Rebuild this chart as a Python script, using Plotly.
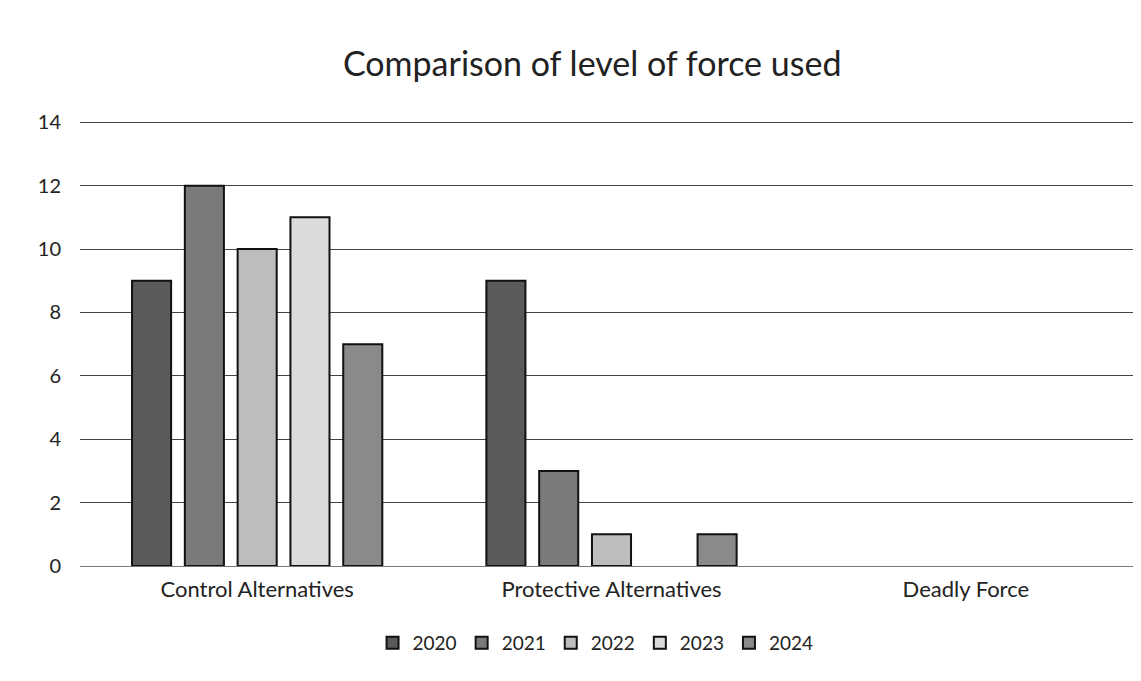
import plotly.graph_objects as go

categories = ["Control Alternatives", "Protective Alternatives", "Deadly Force"]
years = ["2020", "2021", "2022", "2023", "2024"]
values_2020 = [9, 9, 0]
values_2021 = [12, 3, 0]
values_2022 = [10, 1, 0]
values_2023 = [11, 0, 0]
values_2024 = [7, 1, 0]
y_ticks = [0, 2, 4, 6, 8, 10, 12, 14]

series = [values_2020, values_2021, values_2022, values_2023, values_2024]
colors = ["#5a5a5a", "#7a7a7a", "#bdbdbd", "#dcdcdc", "#8a8a8a"]
FONT = "Lato, Open Sans, sans-serif"

fig = go.Figure()
for yr, vals, col in zip(years, series, colors):
    fig.add_trace(go.Bar(
        x=categories, y=vals, name=yr,
        marker=dict(color=col,
                    line=dict(color="#111111", width=[2 if v > 0 else 0 for v in vals])),
    ))

fig.update_layout(
    width=1141, height=681, autosize=False,
    paper_bgcolor="white", plot_bgcolor="white",
    margin=dict(l=72, r=6, t=113, b=123),
    barmode="group", bargap=0.255, bargroupgap=0.26,
    title=dict(text="Comparison of level of force used", x=0.512, xanchor="center",
               y=0.918, yanchor="middle",
               font=dict(family=FONT, size=34, color="#222")),
    font=dict(family=FONT, color="#333"),
    legend=dict(orientation="h", x=0.485, xanchor="center", y=-0.13, yanchor="top",
                font=dict(size=19, color="#222"), itemwidth=30, traceorder="normal"),
    showlegend=True,
)
fig.update_yaxes(range=[0, 14.04], tickvals=y_ticks, showgrid=True, gridcolor="#444",
                 gridwidth=1, zeroline=True, zerolinecolor="#777", zerolinewidth=1,
                 tickfont=dict(size=20, color="#222"), ticklabelstandoff=18)
fig.update_xaxes(showline=False, tickfont=dict(size=22, color="#222"), ticklabelstandoff=8)

fig.write_html("out.html")
